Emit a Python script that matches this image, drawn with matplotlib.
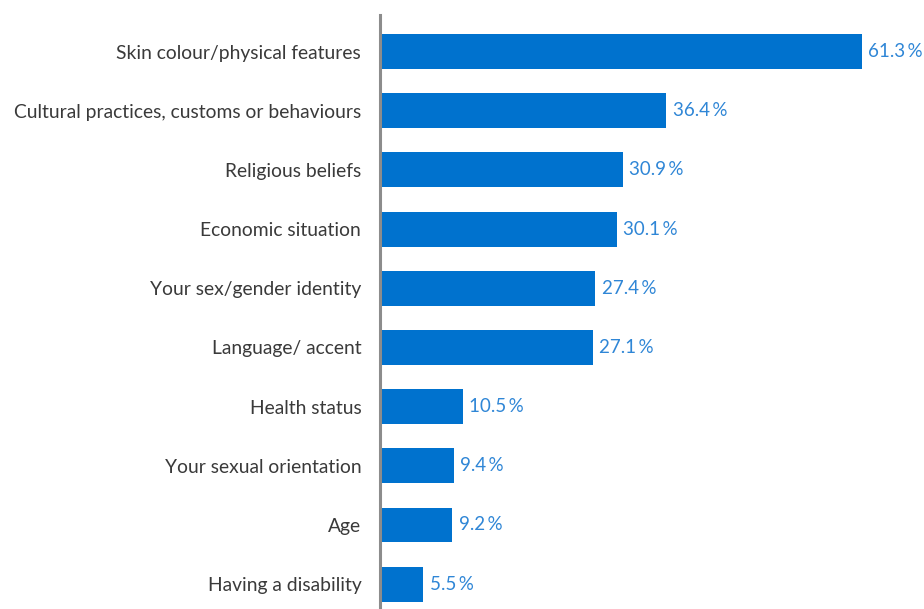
import matplotlib.pyplot as plt

categories = [
    "Skin colour/physical features",
    "Cultural practices, customs or behaviours",
    "Religious beliefs",
    "Economic situation",
    "Your sex/gender identity",
    "Language/ accent",
    "Health status",
    "Your sexual orientation",
    "Age",
    "Having a disability",
]
values = [61.3, 36.4, 30.9, 30.1, 27.4, 27.1, 10.5, 9.4, 9.2, 5.5]

plt.rcParams['font.family'] = ['Lato', 'DejaVu Sans']

fig = plt.figure(figsize=(9.24, 6.09), dpi=100)
ax = fig.add_axes([380 / 924, 0, 544 / 924, 594 / 609])

pos = list(range(len(categories)))
ax.barh(pos, values, height=0.59, color="#0072CE")

for y, v in zip(pos, values):
    ax.text(v + 0.8, y, f"{v:.1f}\u2009%", va="center", ha="left",
            fontsize=13.5, color="#2F86D6")

ax.set_xlim(0, 69.18)
ax.set_ylim(9.42, -0.617)
ax.set_yticks(pos)
ax.set_yticklabels(categories, fontsize=13.9, color="#3A3A3A")
ax.tick_params(axis="y", length=0, pad=13.5)
ax.set_xticks([])

for side in ["top", "right", "bottom"]:
    ax.spines[side].set_visible(False)
ax.spines["left"].set_color("#8C8C8C")
ax.spines["left"].set_linewidth(2.2)

fig.savefig("out.png", dpi=100)
